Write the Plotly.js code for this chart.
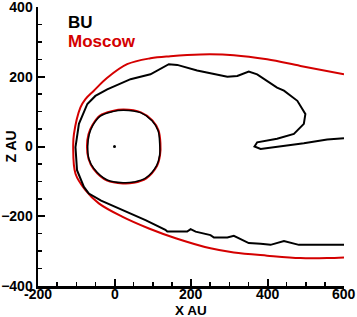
<!DOCTYPE html>
<html>
<head>
<meta charset="utf-8">
<script src="https://cdn.plot.ly/plotly-3.0.1.min.js"></script>
<style>html,body{margin:0;padding:0;background:#fff}#chart{width:357px;height:317px}</style>
</head>
<body>
<div id="chart"></div>
<script>
// BU heliopause (open curve: tail -> loop -> top -> nose -> bottom)
const buOuterX = [600,556,495,434,382,366,373,425,469,495,499,478,443,425,373,351,321,295,216,164,142,94,42,-19,-50,-71,-93,-102,-98,-80,-67,-35,20,81,133,138,190,199,212,251,260,295,312,351,382,408,443,482,600];
const buOuterY = [24,20,9,0,-7,0,12,22,36,65,93,131,160,169,207,215,202,200,218,234,236,207,193,164,145,122,65,-2,-68,-116,-135,-155,-182,-211,-239,-244,-244,-237,-244,-254,-261,-261,-256,-277,-279,-282,-271,-282,-282];
// Moscow heliopause
const moOuterX = [600,486,399,312,225,146,94,33,-19,-54,-76,-89,-106,-108,-102,-76,-41,20,90,160,251,312,399,486,556,600];
const moOuterY = [207,231,250,262,264,259,253,236,197,160,136,112,36,-2,-78,-125,-163,-201,-235,-263,-292,-304,-313,-320,-320,-318];
// Termination shocks
const buTsX = [24,68,98,114,118,118,110,81,50,24,-19,-54,-67,-70,-66,-57,-37,-5,24];
const buTsY = [104,97,74,45,10,-25,-55,-91,-102,-104,-96,-63,-35,0,35,60,87,100,104];
const moTsX = [24,69,99,115,120,119,111,82,50,24,-19,-55,-68,-72,-68,-58,-38,-5,24];
const moTsY = [106,98,75,46,10,-25,-56,-92,-104,-106,-98,-64,-35,0,35,61,89,102,106];
// Sun
const sunX = [0];
const sunY = [0];
// Ticks and labels
const xTicks = [-200,0,200,400,600];
const yTicks = [-400,-200,0,200,400];
const legendNames = ['BU','Moscow'];
const axisTitles = ['X AU','Z AU'];
const colors = {BU:'#000000', Moscow:'#d40000'};

const traces = [
  {x:moOuterX, y:moOuterY, mode:'lines', line:{color:colors.Moscow, width:2, shape:'spline', smoothing:1}, hoverinfo:'skip'},
  {x:moTsX, y:moTsY, mode:'lines', line:{color:colors.Moscow, width:2, shape:'spline'}, hoverinfo:'skip'},
  {x:buOuterX, y:buOuterY, mode:'lines', line:{color:colors.BU, width:2}, hoverinfo:'skip'},
  {x:buTsX, y:buTsY, mode:'lines', line:{color:colors.BU, width:1.5, shape:'spline'}, hoverinfo:'skip'},
  {x:sunX, y:sunY, mode:'markers', marker:{color:'#000', size:3}, hoverinfo:'skip'}
];

const fam = 'Liberation Sans, Arial, sans-serif';
const tickFont = {family:fam, size:14, color:'#000', weight:'bold'};
const axisCommon = {
  showgrid:false, zeroline:false, showline:true, linecolor:'#000', linewidth:2.5,
  ticks:'inside', ticklen:7, tickwidth:2, tickcolor:'#000',
  tickfont:tickFont, ticklabeloverflow:'allow',
  minor:{ticks:'inside', ticklen:4, tickwidth:1.5, tickcolor:'#000', dtick:50, showgrid:false},
  automargin:false, mirror:false
};

const annotations = [
  {text:'<b>'+legendNames[0]+'</b>', xref:'paper', yref:'paper', x:0.09, y:0.945, xanchor:'left', yanchor:'middle', showarrow:false, font:{family:fam, size:17, color:colors.BU}},
  {text:'<b>'+legendNames[1]+'</b>', xref:'paper', yref:'paper', x:0.09, y:0.878, xanchor:'left', yanchor:'middle', showarrow:false, font:{family:fam, size:17, color:colors.Moscow}},
  {text:'<b>'+axisTitles[0]+'</b>', xref:'paper', yref:'paper', x:0.5, y:0, xanchor:'center', yanchor:'middle', yshift:-24, showarrow:false, borderpad:0, font:{family:fam, size:13.5, color:'#000'}},
  {text:'<b>'+axisTitles[1]+'</b>', xref:'paper', yref:'paper', x:0, y:0.5, xanchor:'center', yanchor:'middle', xshift:-28, textangle:-90, showarrow:false, font:{family:fam, size:14, color:'#000'}}
];
xTicks.forEach(v => annotations.push({text:'<b>'+v+'</b>', xref:'x', yref:'paper', x:v, y:0, xanchor:'center', yanchor:'middle', yshift:-8, showarrow:false, borderpad:0, font:{family:fam, size:14, color:'#000'}}));

const layout = {
  width:357, height:317,
  margin:{l:38, r:13, t:7, b:31},
  paper_bgcolor:'#fff', plot_bgcolor:'#fff',
  showlegend:false,
  xaxis:Object.assign({}, axisCommon, {range:[-200,600], tickvals:xTicks, showticklabels:false}),
  yaxis:Object.assign({}, axisCommon, {range:[-400,400], tickvals:yTicks}),
  annotations:annotations
};

Plotly.newPlot('chart', traces, layout, {displayModeBar:false, staticPlot:true});
</script>
</body>
</html>
